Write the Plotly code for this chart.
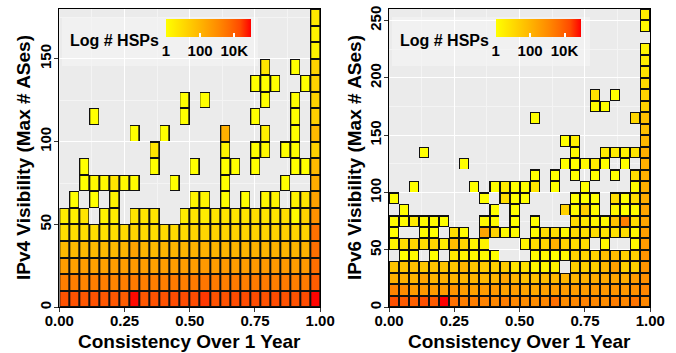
import plotly.graph_objects as go

# ---------------- data ----------------
_ = None
N_X_BINS = 26
consistency_ticks = [0, 0.25, 0.5, 0.75, 1.0]
consistency_ticktext = ["0.00", "0.25", "0.50", "0.75", "1.00"]
ipv4_yticks = [0, 50, 100, 150]
ipv6_yticks = [0, 50, 100, 150, 200, 250]
legend_tickvals = [0, 2, 4]          # log10(# HSPs)
legend_ticktext = ["1", "100", "10K"]

# log10(# HSPs) per bin; rows = visibility bins of 10 ASes (bottom -> top), cols = consistency bins
ipv4_log_hsps = [
    [4.2,4.2,4.1,4.2,4.1,4.1,4.0,4.9,4.1,4.2,4.2,4.3,4.3, 4.3,4.5,4.2,4.2,4.3,4.3,4.3,4.2,4.3,4.2,4.2,4.3,4.95],
    [3.3,3.3,3.2,3.3,3.3,3.2,3.3,3.4,3.3,3.3,3.3,3.4,3.3, 3.4,3.5,3.4,3.3,3.4,3.3,3.4,3.4,3.3,3.4,3.3,3.4,4.0],
    [2.6,2.5,2.6,2.5,2.5,2.6,2.6,2.7,2.6,2.5,2.6,2.6,2.6, 2.6,2.7,2.6,2.7,2.6,2.6,2.7,2.7,2.7,2.7,2.6,2.7,3.65],
    [1.9,1.9,1.9,1.9,1.9,1.9,2.0,2.5,2.0,1.9,2.0,2.0,2.0, 2.1,2.1,2.0,2.0,2.0,2.0,2.1,2.0,2.1,2.0,2.0,2.1,3.65],
    [0.9,0.9,0.9,0.9,0.8,0.9,1.0,1.1,1.0,0.9,1.0,1.0,1.0, 1.1,1.1,1.2,1.1,1.2,1.1,1.2,1.1,1.2,1.3,1.1,1.2,3.6],
    [0.5,0.4,0.7,_,0.3,0.5,_,0.7,0.7,0.7,_,_,0.5, 0.7,0.5,0.7,0.7,0.7,0.7,0.9,0.7,0.7,0.9,0.1,1.2,2.9],
    [_,0.0,_,0.0,_,0.3,_,_,_,_,_,_,_, 0.3,0.3,_,0.0,_,0.0,_,0.2,0.3,_,0.3,0.7,2.5],
    [_,_,0.0,0.2,0.2,0.7,0.2,0.1,_,_,_,0.0,_, _,_,_,0.0,_,_,_,_,_,0.0,_,_,2.2],
    [_,_,0.0,_,_,_,_,_,_,0.0,_,_,_, 0.0,_,_,0.0,0.0,_,0.0,_,_,_,0.0,0.0,1.9],
    [_,_,_,_,_,_,_,_,_,0.7,_,_,_, _,_,_,0.3,_,_,0.0,0.2,_,0.0,0.0,_,1.3],
    [_,_,_,_,_,_,_,0.0,_,_,0.0,_,_, _,_,_,2.1,_,_,_,0.4,_,_,0.0,_,1.9],
    [_,_,_,0.0,_,_,_,_,_,_,_,_,0.0, _,_,_,_,_,_,0.0,_,_,_,0.0,_,1.3],
    [_,_,_,_,_,_,_,_,_,_,_,_,0.0, _,0.0,_,_,_,_,_,0.0,_,_,0.0,_,1.2],
    [_]*13 + [_,_,_,_,_,_,0.0,0.0,0.0,_,_,0.0,1.2],
    [_]*13 + [_,_,_,_,_,_,_,0.7,_,_,0.0,_,1.2],
    [_]*25 + [0.3],
    [_]*25 + [0.3],
    [_]*25 + [0.6],
]

ipv6_log_hsps = [
    [4.2,4.0,3.9,4.2,4.0,4.95,3.6,3.3,3.3,3.2,3.1,3.3,3.1, 3.0,3.0,3.1,3.6,3.0,3.1,3.2,3.1,3.0,3.3,3.1,3.5,3.1],
    [3.2,3.0,2.6,2.7,2.6,2.6,2.8,2.6,2.5,2.6,2.7,2.5,2.6, 2.4,2.3,2.5,2.6,2.6,2.6,2.6,2.7,2.7,2.8,2.7,2.9,3.1],
    [2.1,2.1,2.0,2.4,2.0,2.1,2.0,2.0,2.0,1.9,2.0,2.4,2.0, 1.7,1.7,1.8,1.9,2.0,2.0,2.1,2.2,2.3,2.4,2.2,2.6,2.9],
    [1.6,1.6,1.7,1.5,1.6,1.6,1.5,2.0,1.5,1.4,1.3,1.4,0.7, 0.8,0.3,0.3,0.4,_,1.3,1.3,1.3,1.9,2.5,1.3,1.3,2.8],
    [_,0.0,0.1,_,0.0,_,0.6,0.3,0.2,0.1,0.0,_,_, _,0.1,0.2,0.0,0.2,1.2,1.1,1.2,1.7,1.8,1.3,1.3,2.8],
    [0.3,0.9,1.1,0.9,1.1,0.5,1.8,1.1,0.3,0.3,_,_,_, 0.3,0.9,1.1,2.1,1.2,0.9,0.9,_,0.2,_,_,0.2,2.6],
    [0.0,_,_,0.1,0.0,_,0.9,0.1,_,2.4,1.2,0.1,0.1, _,0.1,0.9,0.9,0.2,0.9,0.8,0.9,0.7,0.8,0.9,0.2,2.5],
    [0.1,0.1,0.6,0.1,0.1,0.0,_,_,_,0.2,0.1,_,0.0, _,0.0,_,_,_,0.9,0.6,0.3,0.2,1.6,3.3,1.0,2.4],
    [_,0.0,_,_,_,_,_,_,_,_,0.0,_,0.0, _,_,_,_,1.2,0.1,1.3,0.1,_,0.2,0.0,0.1,2.4],
    [0.0,_,_,_,_,_,_,_,_,0.0,_,0.9,0.0, 0.0,_,_,_,_,0.0,0.0,0.0,_,0.9,0.0,0.9,2.2],
    [_,_,0.0,_,_,_,_,_,0.0,_,0.0,0.5,0.0, 0.0,0.7,_,0.0,_,_,0.0,_,_,_,_,0.1,2.1],
    [_]*13 + [_,0.0,_,0.0,_,0.0,_,0.0,_,0.0,_,0.9,2.1],
    [_,_,_,_,_,_,_,0.0,_,_,_,_,_, _,_,_,_,0.0,0.0,0.2,0.5,0.0,_,0.0,_,2.1],
    [_,_,_,0.0,_,_,_,_,_,_,_,_,_, _,_,_,_,_,0.1,_,_,0.6,0.5,0.4,0.7,2.1],
    [_]*13 + [_,_,_,_,0.0,0.4,_,_,_,_,_,_,1.9],
    [_]*25 + [1.7],
    [_]*13 + [_,0.0,_,_,_,_,_,_,_,_,_,1.1,1.7],
    [_]*13 + [_,_,_,_,_,_,_,0.1,0.0,_,_,_,1.2],
    [_]*13 + [_,_,_,_,_,_,_,0.8,_,0.0,_,_,1.2],
    [_]*25 + [1.0],
    [_]*25 + [0.7],
    [_]*25 + [0.5],
    [_]*25 + [0.3],
    [_]*26,
    [_]*25 + [0.2],
    [_]*25 + [0.5],
]

# ---------------- styling ----------------
W, H = 676, 353
FONT = "Liberation Sans"
yellow_red = [[0, "#FFFF00"], [0.125, "#FFE800"], [0.25, "#FFD100"], [0.375, "#FFBA00"],
              [0.5, "#FFA100"], [0.625, "#FF8800"], [0.75, "#FF6B00"], [0.875, "#FF4900"], [1, "#FF0000"]]

x_centers = [(i + 0.5) / N_X_BINS for i in range(N_X_BINS)]

def ycenters(n):
    return [10 * j + 5 for j in range(n)]

fig = go.Figure()

def add_panel(z, xa, ya, cax):
    yc = ycenters(len(z))
    present = [[1 if v is not None else None for v in row] for row in z]
    fig.add_trace(go.Heatmap(x=x_centers, y=yc, z=present, xaxis=xa, yaxis=ya,
                             colorscale=[[0, "#111111"], [1, "#111111"]], showscale=False,
                             hoverinfo="skip", zsmooth=False))
    fig.add_trace(go.Heatmap(x=x_centers, y=yc, z=z, xaxis=xa, yaxis=ya, coloraxis=cax,
                             xgap=2, ygap=2, hoverinfo="skip", zsmooth=False))

add_panel(ipv4_log_hsps, "x", "y", "coloraxis")
add_panel(ipv6_log_hsps, "x2", "y2", "coloraxis2")

tickfont = dict(family=FONT, size=15, color="black", weight="bold")
common = dict(showgrid=True, gridcolor="white", gridwidth=1.1, zeroline=False,
              showline=True, linecolor="black", linewidth=1, mirror=True,
              ticks="outside", ticklen=4, tickwidth=1, tickcolor="#333333",
              tickfont=tickfont, automargin=False)

ydom = [1 - 307.3 / H, 1 - 9 / H]
def xaxis(dom, anchor):
    return dict(domain=dom, range=[0, 1], anchor=anchor, tickvals=consistency_ticks,
                ticktext=consistency_ticktext, ticklabelstandoff=-4,
                minor=dict(tickvals=[0.125, 0.375, 0.625, 0.875], showgrid=True,
                           gridcolor="#F4F4F4", gridwidth=0.6, ticks=""), **common)
def yaxis(rng, ticks, anchor):
    return dict(domain=ydom, range=rng, anchor=anchor, tickvals=ticks, tickangle=-90,
                ticklabelstandoff=-3,
                minor=dict(tickvals=[t + 25 for t in ticks], showgrid=True,
                           gridcolor="#F4F4F4", gridwidth=0.6, ticks=""), **common)

def cbar(x_left):
    return dict(orientation="h", x=x_left / W, xanchor="left", y=1 - 19 / H, yanchor="top",
                len=85, lenmode="pixels", thickness=17.5, xpad=0, ypad=0, outlinewidth=0,
                tickvals=legend_tickvals, ticktext=legend_ticktext, ticks="inside",
                ticklen=4, tickwidth=1.5, tickcolor="white", tickfont=tickfont)

fig.update_layout(
    width=W, height=H, margin=dict(l=0, r=0, t=0, b=0, autoexpand=False),
    paper_bgcolor="white", plot_bgcolor="#EBEBEB", showlegend=False,
    xaxis=xaxis([59.3 / W, 320.2 / W], "y"),
    yaxis=yaxis([0, 180], ipv4_yticks, "x"),
    xaxis2=xaxis([389 / W, 650.3 / W], "y2"),
    yaxis2=yaxis([0, 260], ipv6_yticks, "x2"),
    coloraxis=dict(cmin=0, cmax=4.98, colorscale=yellow_red, colorbar=cbar(166)),
    coloraxis2=dict(cmin=0, cmax=4.94, colorscale=yellow_red, colorbar=cbar(495.7)),
)

# legend background boxes
for x0, x1 in [(62, 258), (392, 590)]:
    fig.add_shape(type="rect", xref="paper", yref="paper", x0=x0 / W, x1=x1 / W,
                  y0=1 - 66 / H, y1=1 - 17 / H, fillcolor="rgba(255,255,255,0.3)",
                  line=dict(width=0), layer="between")

title_font = dict(family=FONT, size=19, color="black", weight="bold")
ann = [
    dict(text="Log # HSPs", x=114 / W, y=1 - 40 / H, font=dict(family=FONT, size=16, color="black", weight="bold")),
    dict(text="Log # HSPs", x=444 / W, y=1 - 40 / H, font=dict(family=FONT, size=16, color="black", weight="bold")),
    dict(text="Consistency Over 1 Year", x=189.7 / W, y=1 - 341 / H, font=title_font),
    dict(text="Consistency Over 1 Year", x=519.7 / W, y=1 - 341 / H, font=title_font),
    dict(text="IPv4 Visibility (Max # ASes)", x=23 / W, y=1 - 158 / H, textangle=-90, font=title_font),
    dict(text="IPv6 Visibility (Max # ASes)", x=354 / W, y=1 - 158 / H, textangle=-90, font=title_font),
]
for a in ann:
    fig.add_annotation(xref="paper", yref="paper", xanchor="center", yanchor="middle",
                       showarrow=False, **a)

fig.write_html("out.html")
